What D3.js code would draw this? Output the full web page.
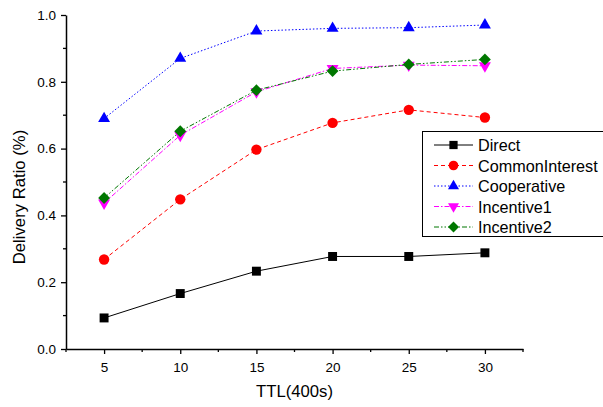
<!DOCTYPE html>
<html><head><meta charset="utf-8">
<script src="https://cdn.jsdelivr.net/npm/d3@7"></script>
<style>body{margin:0;background:#fff}svg{display:block;font-family:"Liberation Sans",Arial,sans-serif}</style>
</head><body><svg id="c" width="603" height="407"></svg>
<script>
const ttl = [5, 10, 15, 20, 25, 30];
const direct = [0.093, 0.166, 0.233, 0.277, 0.277, 0.288];
const commonInterest = [0.268, 0.448, 0.597, 0.677, 0.716, 0.693];
const cooperative = [0.690, 0.870, 0.952, 0.960, 0.962, 0.970];
const incentive1 = [0.437, 0.640, 0.770, 0.840, 0.850, 0.848];
const incentive2 = [0.452, 0.652, 0.775, 0.832, 0.852, 0.867];
const seriesNames = ["Direct", "CommonInterest", "Cooperative", "Incentive1", "Incentive2"];
const xTicks = [5, 10, 15, 20, 25, 30];
const yTicks = [0.0, 0.2, 0.4, 0.6, 0.8, 1.0];

const styles = [
  {color:"#000000", dash:null, sym:d3.symbolSquare, size:80, rot:0},
  {color:"#ff0000", dash:"4,3", sym:d3.symbolCircle, size:85, rot:0},
  {color:"#0000ff", dash:"1.5,2", sym:d3.symbolTriangle, size:62, rot:0},
  {color:"#ff00ff", dash:"5,2,1.5,2", sym:d3.symbolTriangle, size:62, rot:180},
  {color:"#007700", dash:"5,2,1.5,2,1.5,2", sym:d3.symbolSquare, size:70, rot:45}
];
const values = [direct, commonInterest, cooperative, incentive1, incentive2];

const svg = d3.select("#c");
const x = d3.scaleLinear().domain([2.5, 32.5]).range([66, 523]);
const y = d3.scaleLinear().domain([0, 1]).range([349, 15]);

// axes
const xAxis = d3.axisBottom(x).tickValues(xTicks).tickFormat(d3.format("d")).tickSize(5).tickSizeOuter(0).tickPadding(8);
const gx = svg.append("g").attr("transform","translate(0,349)").call(xAxis);
gx.append("g").selectAll("line").data(d3.range(2.5, 33, 5)).join("line")
  .attr("x1", d=>x(d)).attr("x2", d=>x(d)).attr("y1",0).attr("y2",3).attr("stroke","#000").attr("stroke-width",1.3);
const yAxis = d3.axisLeft(y).tickValues(yTicks).tickFormat(d3.format(".1f")).tickSize(5).tickSizeOuter(0).tickPadding(5);
const gy = svg.append("g").attr("transform","translate(66,0)").call(yAxis);
gy.append("g").selectAll("line").data([0.1,0.3,0.5,0.7,0.9]).join("line")
  .attr("y1", d=>y(d)).attr("y2", d=>y(d)).attr("x1",0).attr("x2",-3).attr("stroke","#000").attr("stroke-width",1.3);
[gx, gy].forEach(g=>{
  g.select(".domain").attr("stroke","#000").attr("stroke-width",1.5);
  g.selectAll(".tick line").attr("stroke","#000").attr("stroke-width",1.3);
  g.selectAll("text").attr("font-size",13.5).attr("fill","#000").attr("font-family","Liberation Sans, Arial, sans-serif");
});

svg.append("text").attr("x", x(17.5)).attr("y", 397).attr("text-anchor","middle")
  .attr("font-size",16.7).text("TTL(400s)");
svg.append("text").attr("transform","translate(25,197) rotate(-90)").attr("text-anchor","middle")
  .attr("font-size",16.7).text("Delivery Ratio (%)");

const line = d3.line().x((d,i)=>x(ttl[i])).y(d=>y(d));
values.forEach((vals,k)=>{
  const s = styles[k];
  svg.append("path").datum(vals).attr("d", line).attr("fill","none")
    .attr("stroke", s.color).attr("stroke-width",1).attr("stroke-dasharray", s.dash);
});
values.forEach((vals,k)=>{
  const s = styles[k];
  svg.append("g").selectAll("path").data(vals).join("path")
    .attr("d", d3.symbol().type(s.sym).size(s.size))
    .attr("transform",(d,i)=>`translate(${x(ttl[i])},${y(d)}) rotate(${s.rot})`)
    .attr("fill", s.color);
});

// legend
const lg = svg.append("g");
lg.append("rect").attr("x",422.5).attr("y",131.5).attr("width",190).attr("height",105)
  .attr("fill","#fff").attr("stroke","#000").attr("stroke-width",1);
seriesNames.forEach((n,k)=>{
  const s = styles[k];
  const yy = 145 + k*20.5;
  lg.append("line").attr("x1",434).attr("x2",473).attr("y1",yy).attr("y2",yy)
    .attr("stroke",s.color).attr("stroke-width",1).attr("stroke-dasharray",s.dash);
  lg.append("path").attr("d", d3.symbol().type(s.sym).size(s.size*0.85))
    .attr("transform",`translate(453.5,${yy}) rotate(${s.rot})`).attr("fill",s.color);
  lg.append("text").attr("x",478).attr("y",yy+6).attr("font-size",16.2).text(n);
});
</script></body></html>
